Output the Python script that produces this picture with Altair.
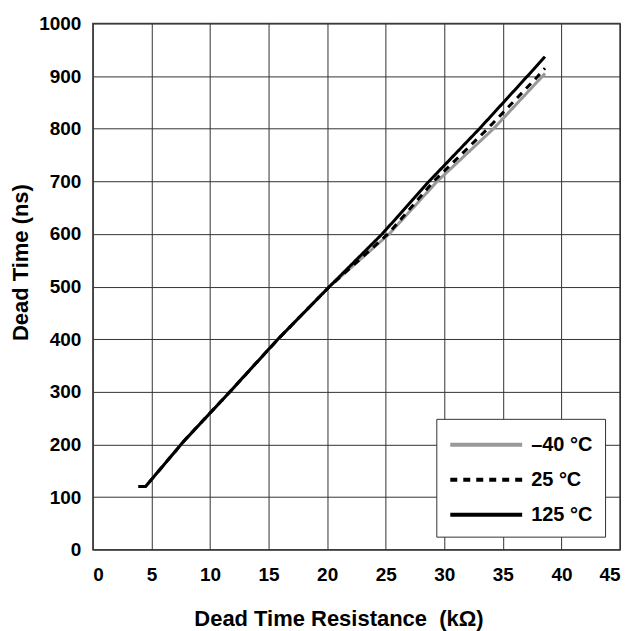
import altair as alt
import pandas as pd

series = ["–40 °C", "25 °C", "125 °C"]

r_m40 = [3.9, 4.5, 7.8, 11.7, 15.8, 20.2, 25.3, 29.4, 34.2, 38.6]
t_m40 = [120, 120, 207, 300, 400, 500, 600, 700, 800, 905]

r_25 = [3.9, 4.5, 7.8, 11.7, 15.8, 20.2, 25.2, 29.1, 33.7, 38.0, 38.6]
t_25 = [120, 120, 207, 300, 400, 500, 600, 700, 800, 900, 915]

r_125 = [3.9, 4.5, 7.8, 11.7, 15.8, 20.2, 24.7, 28.7, 33.0, 37.1, 38.6]
t_125 = [120, 120, 207, 300, 400, 500, 600, 700, 800, 900, 937]

x_ticks = list(range(0, 50, 5))
y_ticks = list(range(0, 1100, 100))

rows = []
for name, rs, ts in zip(series, [r_m40, r_25, r_125], [t_m40, t_25, t_125]):
    for r, v in zip(rs, ts):
        rows.append({"R": r, "T": v, "Temp": name})
df = pd.DataFrame(rows)

font = "Liberation Sans"

chart = alt.Chart(df).mark_line(strokeWidth=3).encode(
    x=alt.X("R:Q", scale=alt.Scale(domain=[0, 45], nice=False),
            axis=alt.Axis(values=x_ticks, title="Dead Time Resistance\u00a0 (kΩ)",
                          labelFontSize=19, labelFontWeight="bold", labelFont=font,
                          labelPadding=16, ticks=False, domain=False,
                          titleFontSize=22, titleFontWeight="bold", titleFont=font,
                          titlePadding=24, titleX=246, titleAlign="center",
                          gridColor="#333", gridOpacity=1)),
    y=alt.Y("T:Q", scale=alt.Scale(domain=[0, 1000], nice=False),
            axis=alt.Axis(values=y_ticks, format="d", title="Dead Time (ns)",
                          labelFontSize=19, labelFontWeight="bold", labelFont=font,
                          labelPadding=12, ticks=False, domain=False,
                          titleFontSize=22, titleFontWeight="bold", titleFont=font,
                          titleX=-72, titleY=239, titleAngle=-90, titleBaseline="middle",
                          titleAlign="center",
                          gridColor="#333", gridOpacity=1)),
    color=alt.Color("Temp:N", sort=series,
                    scale=alt.Scale(domain=series, range=["#999999", "#000000", "#000000"]),
                    legend=alt.Legend(title=None, orient="none", legendX=344, legendY=396,
                                      symbolType="M-1,0H5", symbolStrokeWidth=4,
                                      symbolSize=576, labelFontSize=20, labelFontWeight="bold",
                                      labelFont=font, labelColor="black",
                                      strokeColor="#333", fillColor="white", padding=12,
                                      rowPadding=11, labelOffset=55)),
    strokeDash=alt.StrokeDash("Temp:N", sort=series,
                              scale=alt.Scale(domain=series, range=[[1, 0], [7, 6], [1, 0]]),
                              legend=None),
    order=alt.Order("R:Q"),
).properties(
    width=528, height=527,
    padding={"left": 2, "top": 6, "right": 5, "bottom": 5},
).configure_view(stroke="#444", strokeWidth=1.5).configure_axis(labelColor="black", titleColor="black")

chart.save("out.html", embed_options={"renderer": "svg", "actions": False})
